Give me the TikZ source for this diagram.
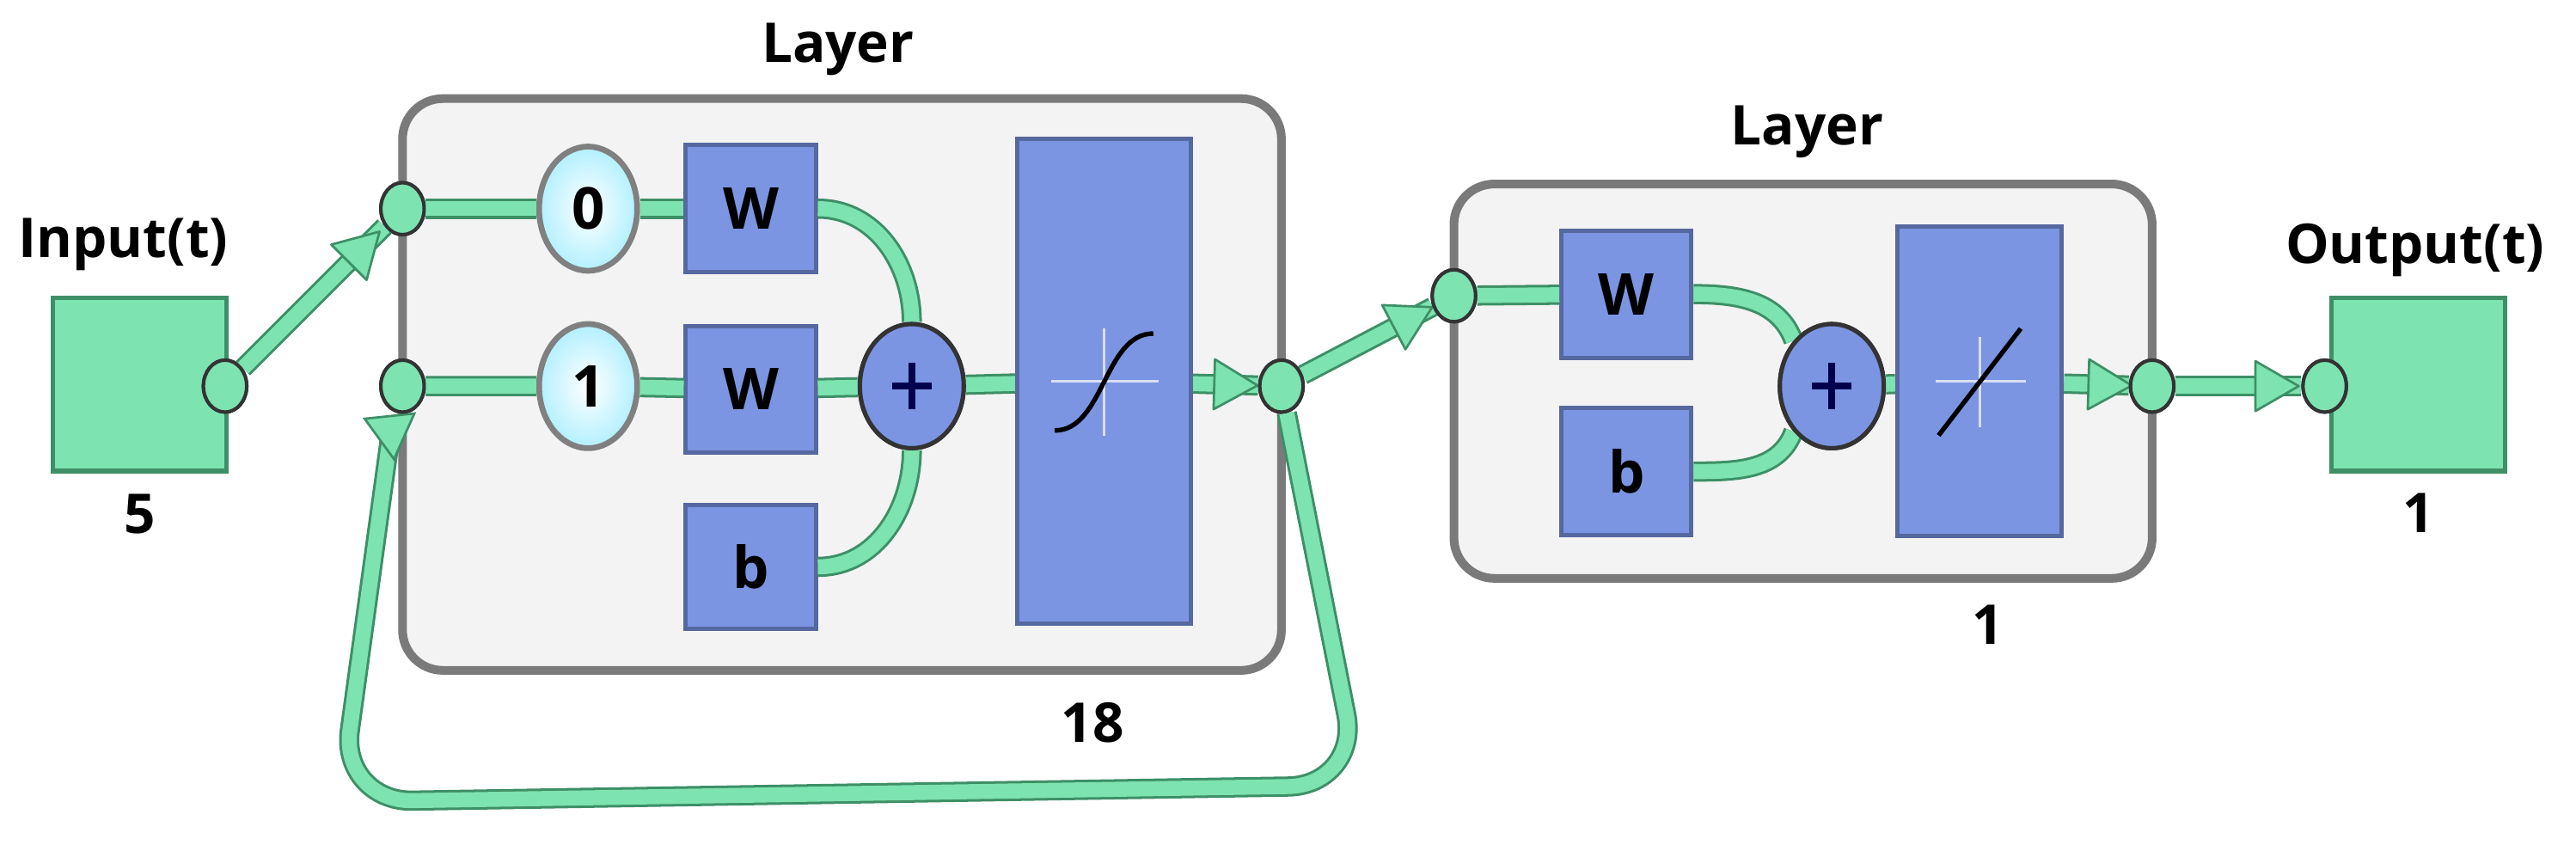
\documentclass[tikz,border=0pt]{standalone}
\usepackage{fontspec}
\setmainfont{Open Sans}
\usetikzlibrary{shapes.geometric,calc}
\definecolor{gl}{HTML}{7DE3B0}
\definecolor{gd}{HTML}{3D8F66}
\definecolor{bl}{HTML}{7B95E2}
\definecolor{bd}{HTML}{55689F}
\definecolor{bx}{HTML}{F3F3F3}
\definecolor{bxd}{HTML}{7A7A7A}
\tikzset{
  conn/.style={draw=gd,line width=0.9pt,double=gl,double distance=5.2pt,line join=round},
  hd/.style={isosceles triangle,isosceles triangle apex angle=60,fill=gl,draw=gd,line width=0.8pt,minimum height=15pt,minimum width=14pt,inner sep=0pt,sloped,anchor=center},
  dot/.style={ellipse,fill=gl,draw=black!80,line width=1.2pt,minimum width=15pt,minimum height=18pt,inner sep=0pt},
  sq/.style={rectangle,fill=gl,draw=gd,line width=1.5pt,inner sep=0pt,minimum width=60pt,minimum height=60pt},
  lay/.style={draw=bxd,fill=bx,line width=3pt,rounded corners=14pt},
  blk/.style={rectangle,fill=bl,draw=bd,line width=1.5pt,inner sep=0pt,font=\bfseries\fontsize{20}{22}\selectfont},
  dly/.style={ellipse,draw=gray,line width=2pt,inner color=white,outer color=blue!20!cyan!30,minimum width=34pt,minimum height=43pt,inner sep=0pt,font=\bfseries\fontsize{20}{22}\selectfont},
  sum/.style={ellipse,fill=bl,draw=black!80,line width=1.5pt,minimum width=36pt,minimum height=43pt,inner sep=0pt},
  lbl/.style={font=\bfseries\fontsize{19}{22}\selectfont}
}
\begin{document}
\begin{tikzpicture}[x=0.02cm,y=-0.02cm]
\useasboundingbox (0,0) rectangle (1568,514);
% layer boxes
\draw[lay] (245,60) rectangle (780,408);
\draw[lay] (885,112) rectangle (1310,352);
\node[lbl] (t1) at (510,30) {Layer};
\node[lbl] (t2) at (1100,80) {Layer};
\node[lbl] (n18) at (665,440) {18};
\node[lbl] (n1) at (1210,380) {1};
% input / output
\node[sq] (in) at (85,234) {};
\node[lbl] (tin) at (75,149) {Input(t)};
\node[lbl] (n5) at (85,313) {5};
\node[sq] (out) at (1472,234) {};
\node[lbl] (tout) at (1470,152) {Output(t)};
\node[lbl] (no1) at (1472,312) {1};
% layer 1 blocks
\node[dly] (d0) at (358,127) {0};
\node[dly] (d1) at (358,235) {1};
\node[blk,minimum width=45pt,minimum height=44pt] (w1) at (457,127) {W};
\node[blk,minimum width=45pt,minimum height=44pt] (w2) at (457,237) {W};
\node[blk,minimum width=45pt,minimum height=43pt] (b1) at (457,345) {b};
\node[sum] (s1) at (555,235) {};
\node[blk,minimum width=60pt,minimum height=168pt] (f1) at (672,232) {};
% layer 2 blocks
\node[blk,minimum width=45pt,minimum height=44pt] (w3) at (990,179) {W};
\node[blk,minimum width=45pt,minimum height=44pt] (b2) at (990,287) {b};
\node[sum] (s2) at (1115,235) {};
\node[blk,minimum width=57pt,minimum height=107pt] (f2) at (1205,232) {};
% dots
\node[dot] (io) at (137,235) {};
\node[dot] (a0) at (245,127) {};
\node[dot] (a1) at (245,235) {};
\node[dot] (lo) at (780,235) {};
\node[dot] (c0) at (885,180) {};
\node[dot] (l2o) at (1310,235) {};
\node[dot] (oi) at (1415,235) {};
\coordinate (fbA) at (238,262);
% connectors layer 1
\draw[conn] (a0) -- (d0) (d0) -- (w1);
\draw[conn] (a1) -- (d1) (d1) -- (w2) (w2) -- (s1) (s1) -- (f1);
\draw[conn] (w1.east) to[out=0,in=90] (s1.north);
\draw[conn] (b1.east) to[out=0,in=-90] (s1.south);
\draw[conn] (f1) -- (lo) node[hd,pos=0.55] {};
\draw[conn] (io) -- (a0) node[hd,pos=0.82] {};
\draw[conn,rounded corners=25pt] (lo) -- (828,478) -- (207,488) -- (fbA);
\node[hd,rotate=-84] (fbh) at (fbA) {};
\draw[conn] (lo) -- (c0) node[hd,pos=0.8] {};
% layer 2
\draw[conn] (c0) -- (w3);
\draw[conn] (w3.east) to[out=0,in=110] (s2.north west);
\draw[conn] (b2.east) to[out=0,in=-110] (s2.south west);
\draw[conn] (s2) -- (f2);
\draw[conn] (f2) -- (l2o) node[hd,pos=0.6] {};
\draw[conn] (l2o) -- (oi) node[hd,pos=0.75] {};
% redraw nodes on top
\foreach \n in {io,a0,a1,lo,c0,l2o,oi}{\node[dot] at (\n) {};}
\node[sum] at (s1) {};
\node[sum] at (s2) {};
\foreach \s in {s1,s2}{
  \draw[line width=2.5pt,color=blue!30!black] ($(\s)+(-12,0)$) -- ($(\s)+(12,0)$);
  \draw[line width=2.5pt,color=blue!30!black] ($(\s)+(0,-14)$) -- ($(\s)+(0,14)$);
}
\node[blk,minimum width=60pt,minimum height=168pt] at (f1) {};
\node[blk,minimum width=57pt,minimum height=107pt] at (f2) {};
\draw[white!70!bl,line width=1pt] (640,232) -- (705,232) (672,200) -- (672,265);
\draw[black,line width=1.6pt] (642,262) .. controls (672,262) and (672,203) .. (702,203);
\draw[white!70!bl,line width=1pt] (1178,232) -- (1233,232) (1205,205) -- (1205,260);
\draw[black,line width=1.6pt] (1180,265) -- (1230,200);
\end{tikzpicture}
\end{document}
